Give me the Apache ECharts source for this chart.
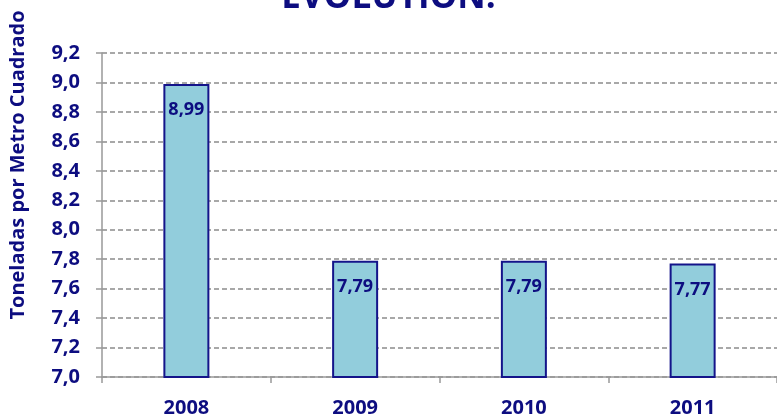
<!DOCTYPE html>
<html>
<head>
<meta charset="utf-8">
<script src="https://cdn.jsdelivr.net/npm/echarts@6/dist/echarts.min.js"></script>
<style>html,body{margin:0;padding:0;background:#fff}#c{width:777px;height:420px}</style>
</head>
<body>
<div id="c"></div>
<script>
var titleText = 'EVOLUTION:';
var yAxisName = 'Toneladas por Metro Cuadrado';
var categories = ['2008', '2009', '2010', '2011'];
var values = [8.99, 7.79, 7.79, 7.77];
var yMin = 7.0, yMax = 9.2, yStep = 0.2;

var navy = '#0d0d80';
var font = '"Open Sans", sans-serif';
function fmt(v, d) { return Number(v).toFixed(d).replace('.', ','); }

var chart = echarts.init(document.getElementById('c'), null, {renderer: 'canvas'});
chart.setOption({
  animation: false,
  title: {
    text: titleText, left: 'center', top: -24,
    textStyle: {fontFamily: font, fontWeight: 'bold', fontSize: 35, color: navy}
  },
  graphic: [{
    type: 'text', x: 18, y: 165, rotation: Math.PI / 2,
    style: {text: yAxisName, fill: navy, align: 'center', verticalAlign: 'middle',
      font: 'bold 20px "Open Sans", sans-serif'}
  }],
  grid: {left: 102, right: -5, top: 53, bottom: 43, containLabel: false},
  xAxis: {
    type: 'category', data: categories,
    axisLine: {lineStyle: {color: '#999', width: 1.5}},
    axisTick: {show: true, length: 6, lineStyle: {color: '#999', width: 1.5}},
    axisLabel: {fontFamily: font, fontWeight: 'bold', fontSize: 20, color: navy, margin: 21}
  },
  yAxis: {
    type: 'value', min: yMin, max: yMax, interval: yStep,
    axisLine: {show: true, lineStyle: {color: '#999', width: 1.5}},
    axisTick: {show: true, inside: false, length: 6, lineStyle: {color: '#999', width: 1.5}},
    axisLabel: {fontFamily: font, fontWeight: 'bold', fontSize: 20, color: navy, margin: 22,
      formatter: function (v) { return fmt(v, 1); }},
    splitLine: {show: true, lineStyle: {color: '#8c8c8c', type: [5, 3], width: 1.5}}
  },
  series: [{
    type: 'bar', data: values, barWidth: 46,
    itemStyle: {color: '#92cddc', borderColor: '#14148a', borderWidth: 2},
    label: {show: true, position: 'insideTop', distance: 17,
      fontFamily: font, fontWeight: 'bold', fontSize: 18, color: navy,
      formatter: function (p) { return fmt(p.value, 2); }}
  }]
});
</script>
</body>
</html>
